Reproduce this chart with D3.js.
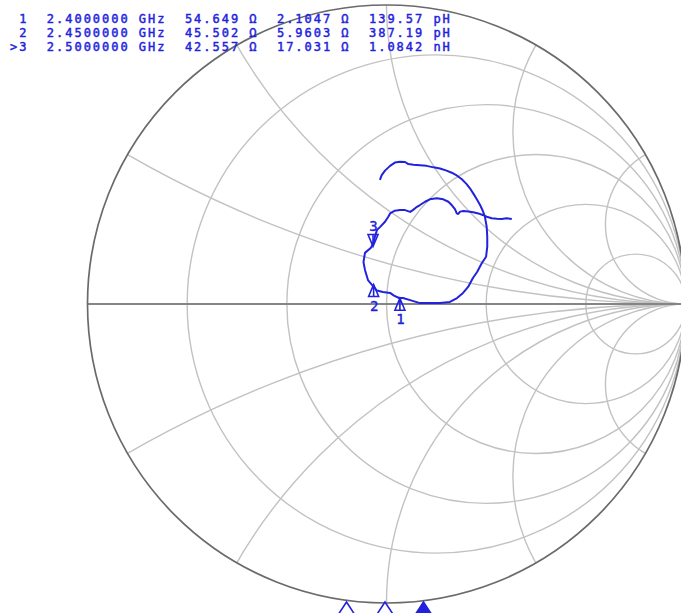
<!DOCTYPE html>
<html>
<head>
<meta charset="utf-8">
<script src="https://cdn.jsdelivr.net/npm/d3@7"></script>
<style>
body { margin: 0; background: #fff; }
</style>
</head>
<body>
<div id="chart"></div>
<script>
// Smith chart figure

var svgWidth = 681;
var svgHeight = 613;

// chart circle in pixels
var cx = 386.5, cy = 304, R = 299;

// grid values
var resistanceGrid = [0.2, 0.5, 1, 2, 5];
var reactanceGrid = [0.268, 0.577, 1, 1.732, 3.732];

// marker readout
var z0 = 50;
var markerIds = ["1", "2", ">3"];
var markerFreqGHz = [2.40, 2.45, 2.50];
var markerR = [54.649, 45.502, 42.557];
var markerX = [2.1047, 5.9603, 17.031];
var markerLC = ["139.57 pH", "387.19 pH", "1.0842 nH"];
var activeMarker = 2;

var traceRe = [-0.022, -0.016, -0.005, 0.012, 0.028, 0.045, 0.062, 0.073, 0.090, 0.112,
	0.134, 0.157, 0.179, 0.201, 0.218, 0.235, 0.252, 0.268, 0.279, 0.290,
	0.302, 0.313, 0.322, 0.329, 0.335, 0.337, 0.337, 0.333, 0.319, 0.303,
	0.289, 0.273, 0.256, 0.236, 0.212, 0.179, 0.145, 0.112, 0.079, 0.055,
	0.042, 0.025, 0.012, -0.012, -0.032, -0.045, -0.062, -0.072, -0.077, -0.072,
	-0.052, -0.044, -0.038, -0.032, -0.022, -0.005, 0.006, 0.012, 0.028, 0.045,
	0.062, 0.079, 0.088, 0.099, 0.112, 0.129, 0.145, 0.168, 0.190, 0.207,
	0.218, 0.229, 0.235, 0.240, 0.246, 0.257, 0.274, 0.290, 0.307, 0.324,
	0.335, 0.352, 0.369, 0.385, 0.402, 0.419];
var traceIm = [0.415, 0.431, 0.446, 0.462, 0.473, 0.476, 0.475, 0.468, 0.466, 0.464,
	0.462, 0.457, 0.453, 0.446, 0.439, 0.430, 0.417, 0.401, 0.387, 0.370,
	0.350, 0.331, 0.312, 0.292, 0.259, 0.225, 0.192, 0.158, 0.137, 0.107,
	0.087, 0.057, 0.037, 0.020, 0.007, 0.003, 0.003, 0.003, 0.013, 0.020,
	0.020, 0.028, 0.037, 0.040, 0.045, 0.060, 0.080, 0.114, 0.140, 0.171,
	0.188, 0.203, 0.227, 0.247, 0.257, 0.275, 0.292, 0.303, 0.312, 0.314,
	0.314, 0.308, 0.314, 0.323, 0.331, 0.342, 0.350, 0.354, 0.350, 0.342,
	0.331, 0.317, 0.303, 0.301, 0.309, 0.311, 0.309, 0.307, 0.303, 0.297,
	0.292, 0.287, 0.285, 0.284, 0.287, 0.284];

var gridColor = "#c2c2c2";
var blue = "#2222dd";

var svg = d3.select("#chart").append("svg")
	.attr("width", svgWidth)
	.attr("height", svgHeight);

// scales: reflection coefficient plane -> pixels
var xScale = d3.scaleLinear().domain([-1, 1]).range([cx - R, cx + R]);
var yScale = d3.scaleLinear().domain([-1, 1]).range([cy + R, cy - R]);
var unit = xScale(1) - xScale(0);

// stimulus position of the markers along the bottom
var stimScale = d3.scaleLinear().domain([2.40, 2.50]).range([346.5, 423.5]);

function gamma(r, x) {
	var d = (r + 1) * (r + 1) + x * x;
	return [(r * r + x * x - 1) / d, 2 * x / d];
}

svg.append("clipPath").attr("id", "unitClip")
	.append("circle")
	.attr("cx", xScale(0))
	.attr("cy", yScale(0))
	.attr("r", unit);

var gridGroup = svg.append("g").attr("clip-path", "url(#unitClip)");

// resistance circles
gridGroup.selectAll(".rcircle")
	.data(resistanceGrid)
	.enter()
	.append("circle")
	.attr("cx", d => xScale(d / (d + 1)))
	.attr("cy", yScale(0))
	.attr("r", d => unit / (d + 1))
	.attr("fill", "none")
	.attr("stroke", gridColor)
	.attr("stroke-width", 1.4);

// reactance arcs, both signs
var reactAll = reactanceGrid.concat(reactanceGrid.map(d => -d));
gridGroup.selectAll(".xcircle")
	.data(reactAll)
	.enter()
	.append("circle")
	.attr("cx", xScale(1))
	.attr("cy", d => yScale(1 / d))
	.attr("r", d => unit / Math.abs(d))
	.attr("fill", "none")
	.attr("stroke", gridColor)
	.attr("stroke-width", 1.4);

// real axis
svg.append("line")
	.attr("x1", xScale(-1))
	.attr("x2", xScale(1))
	.attr("y1", yScale(0))
	.attr("y2", yScale(0))
	.attr("stroke", "#858585")
	.attr("stroke-width", 1.8);

// outer circle
svg.append("circle")
	.attr("cx", xScale(0))
	.attr("cy", yScale(0))
	.attr("r", unit)
	.attr("fill", "none")
	.attr("stroke", "#6a6a6a")
	.attr("stroke-width", 1.7);

// trace
var tracePts = traceRe.map((d, i) => [d, traceIm[i]]);
var line = d3.line()
	.x(d => xScale(d[0]))
	.y(d => yScale(d[1]));

svg.append("path")
	.datum(tracePts)
	.attr("d", line)
	.attr("fill", "none")
	.attr("stroke", blue)
	.attr("stroke-width", 2)
	.attr("stroke-linejoin", "round");

// markers on the trace
var markerGroup = svg.append("g");
markerIds.forEach(function(id, i) {
	var g = gamma(markerR[i] / z0, markerX[i] / z0);
	var px = xScale(g[0]), py = yScale(g[1]);
	var up = (i === activeMarker) ? -1 : 1;
	var h = 12 * up, w = 5;
	markerGroup.append("path")
		.attr("d", `M${px},${py} L${px - w},${py + h} L${px + w},${py + h} Z M${px},${py} L${px},${py + h}`)
		.attr("fill", "none")
		.attr("stroke", blue)
		.attr("stroke-width", 1.6);
	markerGroup.append("text")
		.attr("x", px + 0.5)
		.attr("y", up > 0 ? py + 26 : py - 16)
		.attr("text-anchor", "middle")
		.attr("font-family", "DejaVu Sans Mono")
		.attr("font-size", "14px")
		.attr("fill", blue)
		.attr("stroke", blue)
		.attr("stroke-width", 0.4)
		.text(id.replace(">", ""));
});

// stimulus markers along the bottom edge
svg.selectAll(".stim")
	.data(markerFreqGHz)
	.enter()
	.append("path")
	.attr("d", d => {
		var x = stimScale(d), y = 602;
		return `M${x},${y} L${x - 8.5},${y + 13} L${x + 8.5},${y + 13} Z`;
	})
	.attr("fill", (d, i) => i === activeMarker ? blue : "#fff")
	.attr("stroke", blue)
	.attr("stroke-width", 1.6);

// readout
var fmtFreq = d3.format(".7f");
var fmt5 = d3.format(".5");
var rows = markerIds.map(function(id, i) {
	return id.padStart(2) + "  " + fmtFreq(markerFreqGHz[i]) + " GHz  " +
		fmt5(markerR[i]).padStart(6) + " \u03A9  " +
		fmt5(markerX[i]).padStart(6) + " \u03A9  " +
		markerLC[i].padStart(9);
});

svg.selectAll(".readout")
	.data(rows)
	.enter()
	.append("text")
	.attr("x", 10)
	.attr("y", (d, i) => 22.5 + i * 14.3)
	.attr("font-family", "DejaVu Sans Mono")
	.attr("font-size", "12px")
	.attr("letter-spacing", "1.98px")
	.attr("fill", blue)
	.attr("stroke", blue)
	.attr("stroke-width", 0.45)
	.style("white-space", "pre")
	.text(d => d);
</script>
</body>
</html>
